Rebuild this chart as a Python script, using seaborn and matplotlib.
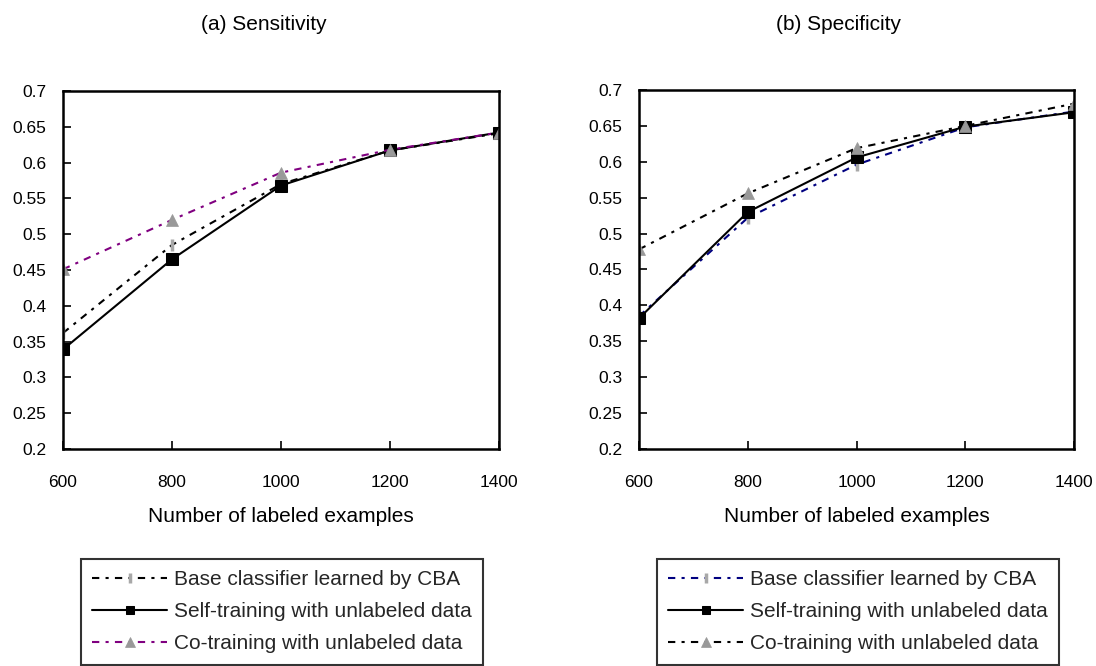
import matplotlib
matplotlib.use("Agg")
import matplotlib.pyplot as plt
import seaborn as sns
import pandas as pd

# ---- data ----
labeled = [600, 800, 1000, 1200, 1400]

sens_base = [0.362, 0.485, 0.570, 0.617, 0.641]
sens_self = [0.339, 0.465, 0.568, 0.617, 0.642]
sens_co = [0.451, 0.520, 0.586, 0.618, 0.642]

spec_base = [0.385, 0.522, 0.596, 0.648, 0.670]
spec_self = [0.382, 0.530, 0.606, 0.649, 0.669]
spec_co = [0.478, 0.556, 0.619, 0.650, 0.681]

series_names = ["Base classifier learned by CBA",
                "Self-training with unlabeled data",
                "Co-training with unlabeled data"]
panel_titles = ["(a) Sensitivity", "(b) Specificity"]
x_label = "Number of labeled examples"
y_ticks = [0.2, 0.25, 0.3, 0.35, 0.4, 0.45, 0.5, 0.55, 0.6, 0.65, 0.7]
y_tick_labels = ["0.2", "0.25", "0.3", "0.35", "0.4", "0.45", "0.5",
                 "0.55", "0.6", "0.65", "0.7"]

sns.set_theme(style="white")
plt.rcParams["font.family"] = ["Liberation Sans", "DejaVu Sans"]

fs_tick = 12.5
fs_text = 15

W, H = 1096, 666
fig = plt.figure(figsize=(W / 100, H / 100), dpi=100)

def frac_box(l, t, r, b):
    return [l / W, 1 - b / H, (r - l) / W, (b - t) / H]

axes_px = [(63, 91, 499, 449), (639, 90, 1074, 449)]
title_cx = [264, 839]

panels = [
    (sens_base, sens_self, sens_co, "#000000", "#800080"),
    (spec_base, spec_self, spec_co, "#000080", "#000000"),
]

dash_pat = (0, (3.5, 3, 1.5, 3))

for i, (base, selft, co, base_col, co_col) in enumerate(panels):
    ax = fig.add_axes(frac_box(*axes_px[i]))
    df = pd.DataFrame({"x": labeled, "base": base, "self": selft, "co": co})
    sns.lineplot(data=df, x="x", y="base", ax=ax, color=base_col,
                 linestyle=dash_pat, linewidth=1.5, marker="|",
                 markersize=9, markeredgewidth=2.5, markeredgecolor="#a8a8a8",
                 label=series_names[0])
    sns.lineplot(data=df, x="x", y="self", ax=ax, color="black",
                 linestyle="-", linewidth=1.5, marker="s", markersize=8,
                 markeredgecolor="black", markerfacecolor="black",
                 label=series_names[1])
    sns.lineplot(data=df, x="x", y="co", ax=ax, color=co_col,
                 linestyle=dash_pat, linewidth=1.5, marker="^", markersize=9,
                 markeredgecolor="#999999", markerfacecolor="#999999",
                 markeredgewidth=0.5, label=series_names[2])

    ax.set_xlim(600, 1400)
    ax.set_ylim(0.2, 0.7)
    ax.set_xticks(labeled)
    ax.set_xticklabels([str(v) for v in labeled])
    ax.set_yticks(y_ticks)
    ax.set_yticklabels(y_tick_labels)
    ax.tick_params(axis="both", direction="in", length=6, width=1.2,
                   colors="black", labelsize=fs_tick, left=True, bottom=True)
    ax.tick_params(axis="x", pad=19)
    ax.tick_params(axis="y", pad=12)
    for sp in ax.spines.values():
        sp.set_color("black")
        sp.set_linewidth(1.8)
        sp.set_visible(True)
    ax.set_xlabel("")
    ax.set_ylabel("")
    handles, labels = ax.get_legend_handles_labels()
    ax.get_legend().remove()

    l, t, r, b = axes_px[i]
    cx = (l + r) / 2
    fig.text(title_cx[i] / W, 1 - 24 / H, panel_titles[i], ha="center",
             va="center", fontsize=fs_text, color="black")
    fig.text(cx / W, 1 - 517 / H, x_label, ha="center", va="center",
             fontsize=fs_text, color="black")

    legx = [81, 657][i]
    leg = fig.legend(handles, labels, loc="upper left",
                     bbox_to_anchor=(legx / W, 1 - 559 / H),
                     frameon=True, fancybox=False, shadow=False,
                     fontsize=fs_text, handlelength=3.6, handletextpad=0.3,
                     borderpad=0.55, labelspacing=0.62, borderaxespad=0)
    for h, ms in zip(leg.legend_handles, [7, 6, 6.5]):
        h.set_markersize(ms)
    fr = leg.get_frame()
    fr.set_edgecolor("black")
    fr.set_linewidth(1.5)
    fr.set_facecolor("white")

fig.savefig("out.png", dpi=100)
